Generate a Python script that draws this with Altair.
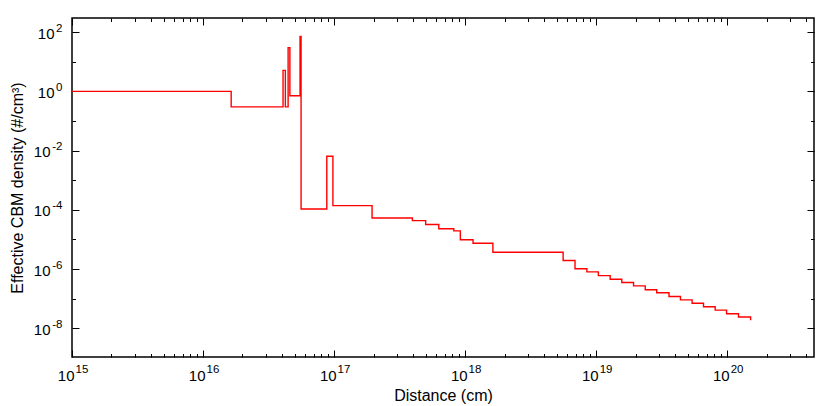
import altair as alt
import pandas as pd

# Step profile: value holds from this distance until the next one
distance_cm = [1e15, 1.64e16, 4.08e16, 4.25e16, 4.46e16, 4.6e16, 5.5e16, 5.6e16,
               8.8e16, 9.8e16, 1.95e17, 3.96e17, 5.0e17, 6.3e17, 8.2e17, 9.2e17,
               1.15e18, 1.63e18, 5.6e18, 6.9e18, 8.5e18, 1.04e19, 1.28e19, 1.57e19,
               1.93e19, 2.37e19, 2.9e19, 3.6e19, 4.4e19, 5.4e19, 6.6e19, 8.1e19,
               9.9e19, 1.22e20, 1.51e20]
density = [1.0, 0.30, 5.1, 0.30, 30, 0.71, 71, 1.07e-4,
           6.4e-3, 1.38e-4, 5.3e-5, 4.3e-5, 3.2e-5, 2.3e-5, 1.95e-5, 9.7e-6,
           7.4e-6, 3.7e-6, 1.94e-6, 1.02e-6, 8.0e-7, 6.0e-7, 4.5e-7, 3.5e-7,
           2.7e-7, 2.0e-7, 1.58e-7, 1.18e-7, 9.1e-8, 7.0e-8, 5.3e-8, 4.1e-8,
           3.1e-8, 2.4e-8, 1.86e-8]

# Tick labels: base "10" plus a superscript exponent
x_exponents = [15, 16, 17, 18, 19, 20]
x_exp_labels = ["15", "16", "17", "18", "19", "20"]
y_exponents = [-8, -7, -6, -5, -4, -3, -2, -1, 0, 1, 2]
y_exp_labels = ["-8", "", "-6", "", "-4", "", "-2", "", "0", "", "2"]
tick_base = "10"

x_domain = [1e15, 4.6e20]
y_domain = [1.07e-9, 3e2]

W, H = 742, 339
FONT = "Liberation Sans"

df = pd.DataFrame({"d": distance_cm, "n": density})

x_major = [10.0 ** e for e in x_exponents]
x_minor = [m * 10.0 ** e for e in x_exponents for m in range(1, 10) if m * 10.0 ** e <= x_domain[1]]
y_vals = [10.0 ** e for e in y_exponents]

EXP = "round(log(datum.value)/LN10)"

def label_expr(exps, labels):
    expr = "''"
    for e, l in zip(exps, labels):
        expr = f"({EXP} == {e}) ? '{l}' : " + expr
    return expr

def base_expr(exps, labels):
    expr = "''"
    for e, l in zip(exps, labels):
        if l:
            expr = f"({EXP} == {e}) ? '{tick_base}' : " + expr
    return expr

x_major_test = f"abs(log(datum.value)/LN10 - {EXP}) < 1e-6"
y_major_test = f"{EXP} % 2 == 0"
x_tick_size = {"condition": {"test": x_major_test, "value": 7}, "value": 3.5}
y_tick_size = {"condition": {"test": y_major_test, "value": 7}, "value": 3.5}

xs = alt.Scale(type="log", domain=x_domain, nice=False)
ys = alt.Scale(type="log", domain=y_domain, nice=False)

common = dict(ticks=False, domain=False, grid=False, labelFont=FONT, labelColor="black",
              labelFlush=False, labelOverlap=False, labelBound=False)

x_base_axis = alt.Axis(orient="bottom", values=x_major, labelExpr=base_expr(x_exponents, x_exp_labels),
                       labelAlign="right", labelOffset=2, labelPadding=11, labelFontSize=15,
                       title="Distance (cm)", titleFont=FONT, titleFontSize=16,
                       titleFontWeight="normal", titlePadding=4, titleColor="black", **common)
x_exp_axis = alt.Axis(orient="bottom", values=x_major, labelExpr=label_expr(x_exponents, x_exp_labels),
                      labelAlign="left", labelOffset=3, labelPadding=6, labelFontSize=11.5,
                      title=None, **common)
y_base_axis = alt.Axis(orient="left", values=y_vals, labelExpr=base_expr(y_exponents, y_exp_labels),
                       labelAlign="right", labelBaseline="middle", labelOffset=1,
                       labelPadding={"condition": {"test": f"{EXP} < 0", "value": 22}, "value": 18},
                       labelFontSize=15,
                       title="Effective CBM density (#/cm³)", titleFont=FONT, titleFontSize=16,
                       titleFontWeight="normal", titlePadding=8, titleColor="black", **common)
y_exp_axis = alt.Axis(orient="left", values=y_vals, labelExpr=label_expr(y_exponents, y_exp_labels),
                      labelAlign="right", labelBaseline="middle", labelOffset=-4, labelPadding=10,
                      labelFontSize=11.5, title=None, **common)

def tick_axis(orient, offset, values, size):
    return alt.Axis(orient=orient, offset=offset, values=values, labels=False,
                    domain=False, grid=False, title=None, tickColor="black",
                    tickWidth=1, tickSize=size)

line = alt.Chart(df).mark_line(interpolate="step-after", color="#ff0000",
                               strokeWidth=1.4, clip=True)
ghost = alt.Chart(df).mark_line(interpolate="step-after", opacity=0)

l1 = line.encode(x=alt.X("d:Q", scale=xs, axis=x_base_axis),
                 y=alt.Y("n:Q", scale=ys, axis=y_base_axis))
l2 = ghost.encode(x=alt.X("d:Q", scale=xs, axis=x_exp_axis),
                  y=alt.Y("n:Q", scale=ys, axis=y_exp_axis))
l3 = ghost.encode(x=alt.X("d:Q", scale=xs, axis=tick_axis("top", -H, x_minor, x_tick_size)),
                  y=alt.Y("n:Q", scale=ys, axis=tick_axis("right", -W, y_vals, y_tick_size)))
l4 = ghost.encode(x=alt.X("d:Q", scale=xs, axis=tick_axis("bottom", -H, x_minor, x_tick_size)),
                  y=alt.Y("n:Q", scale=ys, axis=tick_axis("left", -W, y_vals, y_tick_size)))

chart = alt.layer(l1, l2, l3, l4).resolve_axis(x="independent", y="independent").properties(
    width=W, height=H,
    autosize=alt.AutoSizeParams(type="none"),
    padding={"left": 64, "top": 10, "right": 8, "bottom": 50},
).configure_view(stroke="black", strokeWidth=1.5)

chart.save("out.html", embed_options={"renderer": "svg", "actions": False})
